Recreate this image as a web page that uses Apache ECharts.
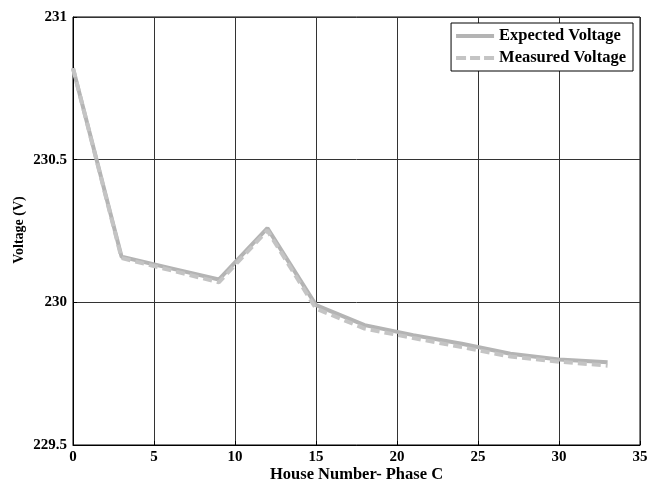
<!DOCTYPE html>
<html><head><meta charset="utf-8">
<script src="https://cdn.jsdelivr.net/npm/echarts@6/dist/echarts.min.js"></script>
<style>html,body{margin:0;padding:0;background:#fff}#c{width:648px;height:482px}</style>
</head><body><div id="c"></div>
<script>
const houses = [0, 3, 6, 9, 12, 15, 18, 21, 24, 27, 30, 33];
const expectedVoltage = [230.82, 230.16, 230.12, 230.08, 230.26, 229.99, 229.92, 229.885, 229.855, 229.82, 229.80, 229.79];
const measuredVoltage = [230.82, 230.155, 230.113, 230.07, 230.252, 229.978, 229.908, 229.875, 229.843, 229.81, 229.792, 229.778];
const xTicks = [0, 5, 10, 15, 20, 25, 30, 35];
const yTicks = [229.5, 230, 230.5, 231];

const font = '"Liberation Serif", "Times New Roman", serif';
const chart = echarts.init(document.getElementById('c'), null, {renderer: 'canvas'});
chart.setOption({
  animation: false,
  backgroundColor: '#fff',
  grid: {left: 73, right: 8, top: 17, bottom: 37, show: true, borderColor: '#000', borderWidth: 1,
         outerBoundsMode: 'none', containLabel: false},
  legend: {
    orient: 'vertical', right: 15, top: 23, padding: [4, 7, 4, 5],
    backgroundColor: '#fff', borderColor: '#000', borderWidth: 1, borderRadius: 0,
    itemWidth: 38, itemHeight: 4, itemGap: 4,
    textStyle: {fontFamily: font, fontWeight: 'bold', fontSize: 16.5, color: '#000', lineHeight: 18},
    data: [
      {name: 'Expected Voltage', icon: 'rect', itemStyle: {color: '#b4b4b4'}},
      {name: 'Measured Voltage', icon: 'path://M0,0h10v4h-10z M14,0h10v4h-10z M28,0h10v4h-10z', itemStyle: {color: '#c4c4c4'}}
    ]
  },
  xAxis: {
    type: 'value', min: 0, max: 35, interval: 5,
    name: 'House Number- Phase C', nameLocation: 'middle', nameGap: 21, nameMoveOverlap: false,
    nameTextStyle: {fontFamily: font, fontWeight: 'bold', fontSize: 16.5, color: '#000', lineHeight: 17},
    axisLine: {show: true, lineStyle: {color: '#000', width: 1}},
    axisTick: {show: true, inside: true, length: 4, lineStyle: {color: '#000'}},
    axisLabel: {fontFamily: font, fontWeight: 'bold', fontSize: 15, color: '#000', margin: 5,
      formatter: v => xTicks.includes(v) ? String(v) : ''},
    splitLine: {show: true, lineStyle: {color: '#333', width: 1}}
  },
  yAxis: {
    type: 'value', min: 229.5, max: 231, interval: 0.5,
    name: 'Voltage (V)', nameLocation: 'middle', nameGap: 47, nameRotate: 90, nameMoveOverlap: false,
    nameTextStyle: {fontFamily: font, fontWeight: 'bold', fontSize: 14, color: '#000', padding: [0, 0, 0, 2]},
    axisLine: {show: true, lineStyle: {color: '#000', width: 1}},
    axisTick: {show: true, inside: true, length: 4, lineStyle: {color: '#000'}},
    axisLabel: {fontFamily: font, fontWeight: 'bold', fontSize: 15, color: '#000', margin: 6,
      formatter: v => yTicks.some(t => Math.abs(t - v) < 1e-9) ? String(v) : ''},
    splitLine: {show: true, lineStyle: {color: '#333', width: 1}}
  },
  series: [
    {name: 'Expected Voltage', type: 'line', symbol: 'none',
     data: houses.map((h, i) => [h, expectedVoltage[i]]),
     lineStyle: {color: '#b4b4b4', width: 4}, itemStyle: {color: '#b4b4b4'}},
    {name: 'Measured Voltage', type: 'line', symbol: 'none',
     data: houses.map((h, i) => [h, measuredVoltage[i]]),
     lineStyle: {color: '#c4c4c4', width: 4, type: [9, 5]}, itemStyle: {color: '#c4c4c4'}}
  ]
});
</script></body></html>
